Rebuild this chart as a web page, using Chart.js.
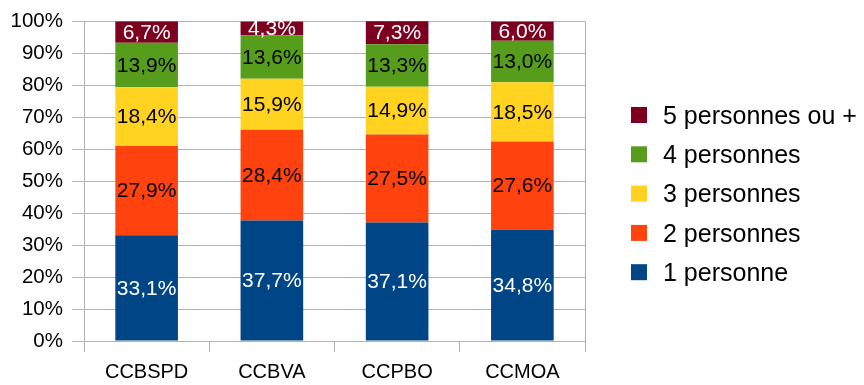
<!DOCTYPE html>
<html>
<head>
<meta charset="utf-8">
<script src="https://cdn.jsdelivr.net/npm/chart.js@4/dist/chart.umd.min.js"></script>
<style>
  html, body { margin: 0; padding: 0; background: #fff; }
  #wrap { width: 864px; height: 385px; position: relative; }
</style>
</head>
<body>
<div id="wrap"><canvas id="menagesChart"></canvas></div>
<script>
// Household size breakdown per community (percent)
var communes = ['CCBSPD', 'CCBVA', 'CCPBO', 'CCMOA'];
var seriesNames = ['1 personne', '2 personnes', '3 personnes', '4 personnes', '5 personnes ou +'];
var seriesColors = ['#004586', '#ff420e', '#ffd320', '#579d1c', '#7e0021'];
var labelColors = ['#ffffff', '#000000', '#000000', '#000000', '#ffffff'];
var une = [33.1, 37.7, 37.1, 34.8];
var deux = [27.9, 28.4, 27.5, 27.6];
var trois = [18.4, 15.9, 14.9, 18.5];
var quatre = [13.9, 13.6, 13.3, 13.0];
var cinqPlus = [6.7, 4.3, 7.3, 6.0];
var yTicks = [0, 10, 20, 30, 40, 50, 60, 70, 80, 90, 100];

var FONT = '"Liberation Sans", Arial, sans-serif';
var GRID = '#b3b3b3';

var allSeries = [une, deux, trois, quatre, cinqPlus];
var datasets = allSeries.map(function(values, i) {
    return {
        label: seriesNames[i],
        data: values,
        backgroundColor: seriesColors[i],
        borderWidth: 0,
        barPercentage: 0.5,
        categoryPercentage: 1.0
    };
});

function fmt(v) {
    return v.toFixed(1).replace('.', ',') + '%';
}

// Value labels centred in each segment
var segmentLabels = {
    id: 'segmentLabels',
    afterDatasetsDraw: function(chart) {
        var ctx = chart.ctx;
        ctx.save();
        ctx.font = '21px ' + FONT;
        ctx.textAlign = 'center';
        ctx.textBaseline = 'middle';
        chart.data.datasets.forEach(function(ds, di) {
            var meta = chart.getDatasetMeta(di);
            meta.data.forEach(function(bar, i) {
                var p = bar.getProps(['x', 'y', 'base'], true);
                ctx.fillStyle = labelColors[di];
                ctx.fillText(fmt(ds.data[i]), p.x, (p.y + p.base) / 2 + 1);
            });
        });
        ctx.restore();
    }
};

// Right frame line and the legend on the right side
var frameAndLegend = {
    id: 'frameAndLegend',
    afterDraw: function(chart) {
        var ctx = chart.ctx;
        var area = chart.chartArea;
        ctx.save();
        ctx.strokeStyle = GRID;
        ctx.lineWidth = 1;
        ctx.beginPath();
        ctx.moveTo(Math.round(area.right) + 0.5, area.top);
        ctx.lineTo(Math.round(area.right) + 0.5, area.bottom);
        ctx.stroke();

        ctx.font = '25px ' + FONT;
        ctx.textBaseline = 'middle';
        ctx.textAlign = 'left';
        var n = chart.data.datasets.length;
        for (var k = 0; k < n; k++) {
            var di = n - 1 - k;
            var cy = 115 + k * 39.3;
            ctx.fillStyle = seriesColors[di];
            ctx.fillRect(631, cy - 8, 16, 16);
            ctx.fillStyle = '#000';
            ctx.fillText(seriesNames[di], 663, cy + 2);
        }
        ctx.restore();
    }
};

var chart = new Chart(document.getElementById('menagesChart'), {
    type: 'bar',
    data: { labels: communes, datasets: datasets },
    plugins: [segmentLabels, frameAndLegend],
    options: {
        responsive: true,
        maintainAspectRatio: false,
        animation: false,
        layout: { padding: { top: 20, right: 279, left: 0, bottom: 0 } },
        plugins: {
            legend: { display: false },
            tooltip: { enabled: false }
        },
        scales: {
            x: {
                stacked: true,
                offset: true,
                afterFit: function(scale) { scale.height = 44; },
                grid: {
                    offset: true,
                    drawOnChartArea: false,
                    drawTicks: true,
                    tickLength: 11,
                    color: GRID
                },
                border: { display: false },
                ticks: {
                    color: '#000',
                    padding: 8,
                    font: { family: FONT, size: 20 }
                }
            },
            y: {
                stacked: true,
                min: 0,
                max: 100,
                afterFit: function(scale) { scale.width = 84; },
                afterBuildTicks: function(scale) {
                    scale.ticks = yTicks.map(function(v) { return { value: v }; });
                },
                grid: {
                    color: GRID,
                    tickLength: 12
                },
                border: { color: GRID },
                ticks: {
                    color: '#000',
                    padding: 9,
                    font: { family: FONT, size: 20.5 },
                    callback: function(v) { return v + '%'; }
                }
            }
        }
    }
});
</script>
</body>
</html>
